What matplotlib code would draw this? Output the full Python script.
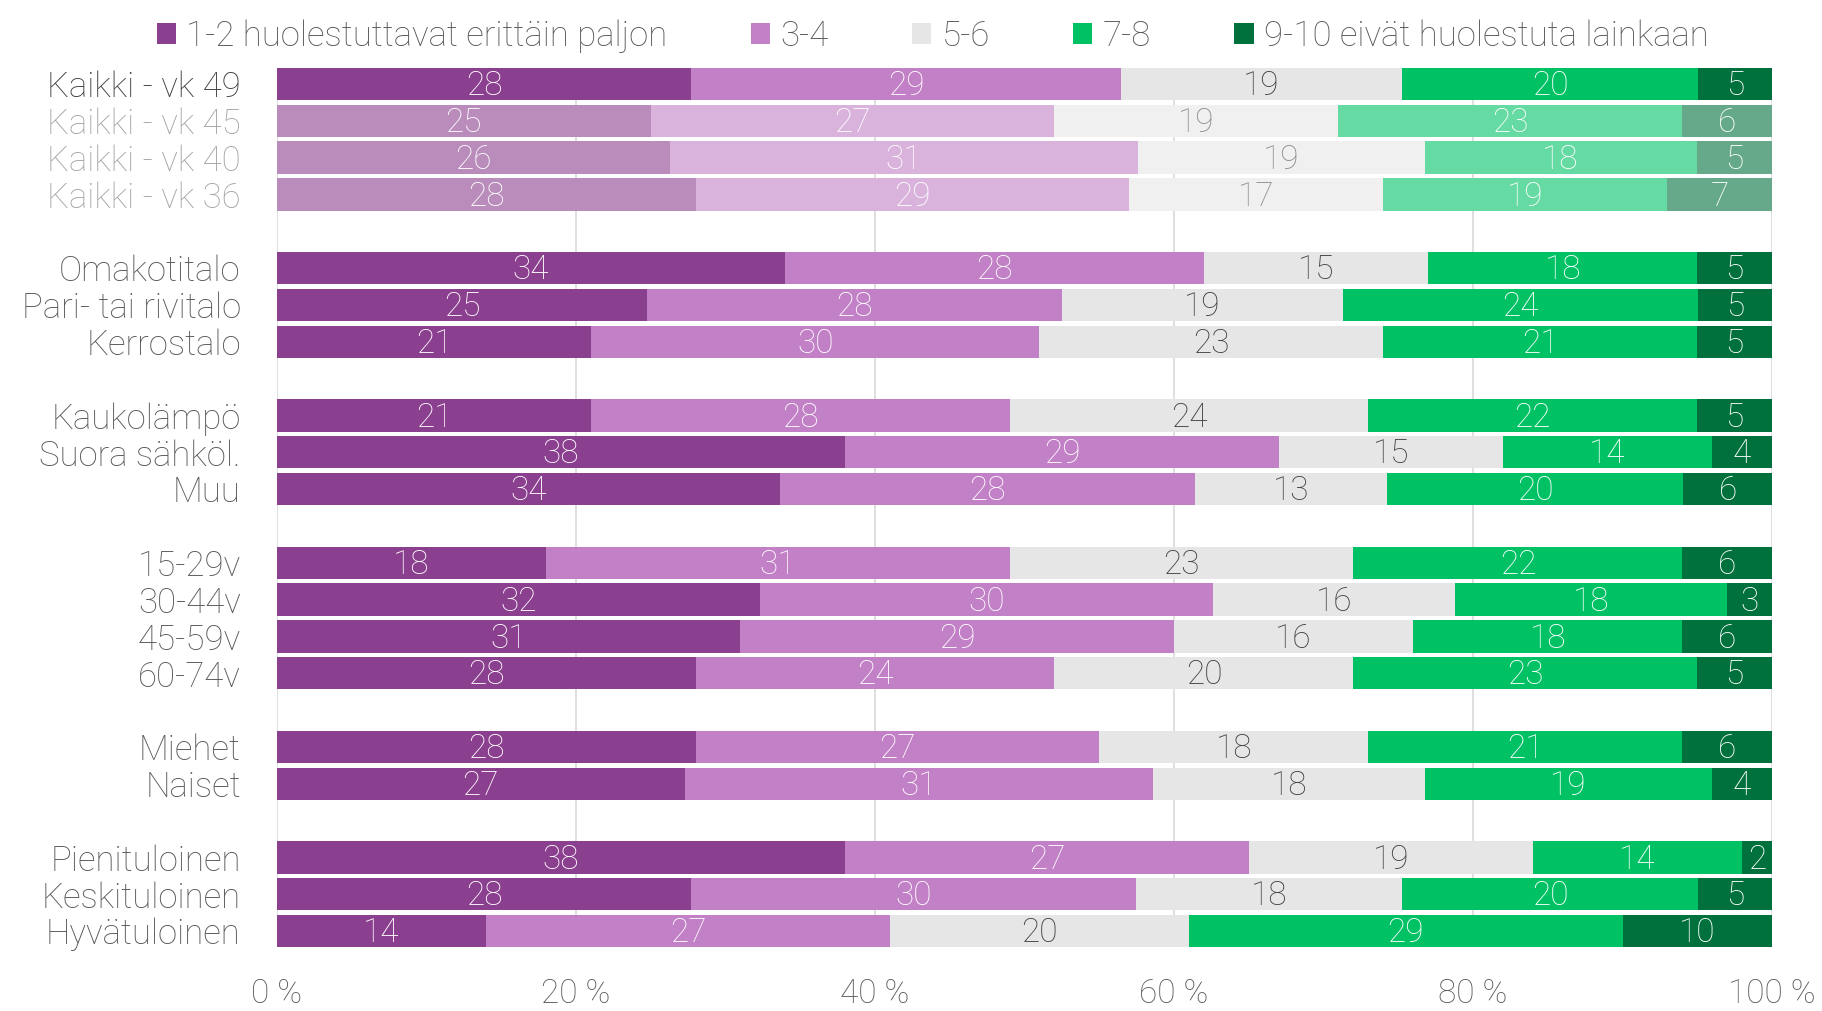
import numpy as np
import matplotlib.pyplot as plt

plt.rcParams['font.family'] = ['Roboto', 'DejaVu Sans']
plt.rcParams['font.weight'] = 'light'

categories = [
    ["Kaikki - vk 49", "Kaikki - vk 45", "Kaikki - vk 40", "Kaikki - vk 36"],
    ["Omakotitalo", "Pari- tai rivitalo", "Kerrostalo"],
    ["Kaukolämpö", "Suora sähköl.", "Muu"],
    ["15-29v", "30-44v", "45-59v", "60-74v"],
    ["Miehet", "Naiset"],
    ["Pienituloinen", "Keskituloinen", "Hyvätuloinen"],
]

series = ["1-2 huolestuttavat erittäin paljon", "3-4", "5-6", "7-8",
          "9-10 eivät huolestuta lainkaan"]

values = np.array([
    [28, 29, 19, 20, 5],
    [25, 27, 19, 23, 6],
    [26, 31, 19, 18, 5],
    [28, 29, 17, 19, 7],
    [34, 28, 15, 18, 5],
    [25, 28, 19, 24, 5],
    [21, 30, 23, 21, 5],
    [21, 28, 24, 22, 5],
    [38, 29, 15, 14, 4],
    [34, 28, 13, 20, 6],
    [18, 31, 23, 22, 6],
    [32, 30, 16, 18, 3],
    [31, 29, 16, 18, 6],
    [28, 24, 20, 23, 5],
    [28, 27, 18, 21, 6],
    [27, 31, 18, 19, 4],
    [38, 27, 19, 14, 2],
    [28, 30, 18, 20, 5],
    [14, 27, 20, 29, 10],
], dtype=float)

faded_rows = ["Kaikki - vk 45", "Kaikki - vk 40", "Kaikki - vk 36"]

colors = ["#8B3F8F", "#C280C6", "#E6E6E6", "#00C265", "#00703C"]
faded = ["#B98CBC", "#DAB3DD", "#F0F0F0", "#66DAA3", "#66A98A"]
text_colors = ["white", "white", "#404040", "white", "white"]
faded_text = ["white", "white", "#8C8C8C", "white", "white"]

# y positions: one empty slot between groups
labels, ypos = [], []
pos = 0
for g in categories:
    for name in g:
        labels.append(name)
        ypos.append(pos)
        pos += 1
    pos += 1
ypos = np.array(ypos)

shares = values / values.sum(axis=1, keepdims=True) * 100

fig = plt.figure(figsize=(18.22, 10.11), dpi=100)
ax = fig.add_axes([0.152, 0.063, 0.8206, 0.870])

bar_h = 0.88
left = np.zeros(len(labels))
for j in range(len(series)):
    cols = [faded[j] if lab in faded_rows else colors[j] for lab in labels]
    ax.barh(ypos, shares[:, j], left=left, height=bar_h, color=cols,
            label=series[j], zorder=2)
    for i, lab in enumerate(labels):
        tc = faded_text[j] if lab in faded_rows else text_colors[j]
        ax.text(left[i] + shares[i, j] / 2, ypos[i] + 0.06, f"{int(values[i, j])}",
                ha="center", va="center", fontsize=24, color=tc, zorder=3)
    left += shares[:, j]

ax.set_xlim(0, 100)
ax.set_ylim(ypos[-1] + bar_h / 2, -bar_h / 2)
ax.set_yticks(ypos)
ax.set_yticklabels(labels, fontsize=25)
for t, lab in zip(ax.get_yticklabels(), labels):
    if lab in faded_rows:
        t.set_color("#A6A6A6")
    elif lab == labels[0]:
        t.set_color("#404040")
    else:
        t.set_color("#595959")
ax.set_xticks(np.arange(0, 101, 20))
ax.set_xticklabels([f"{v} %" for v in range(0, 101, 20)], fontsize=24, color="#595959")
ax.tick_params(axis="both", length=0)
ax.tick_params(axis="y", pad=26)
ax.tick_params(axis="x", pad=22)
ax.grid(axis="x", color="#D9D9D9", linewidth=1.2, zorder=0)
for s in ax.spines.values():
    s.set_visible(False)

handles, hl = ax.get_legend_handles_labels()
fig.legend(handles, hl, loc="upper center", bbox_to_anchor=(0.512, 1.012), ncol=5,
           frameon=False, fontsize=25, labelcolor="#595959", handlelength=0.55,
           handleheight=0.55, handletextpad=0.3, columnspacing=2.4)

fig.savefig("out.png", dpi=100)
